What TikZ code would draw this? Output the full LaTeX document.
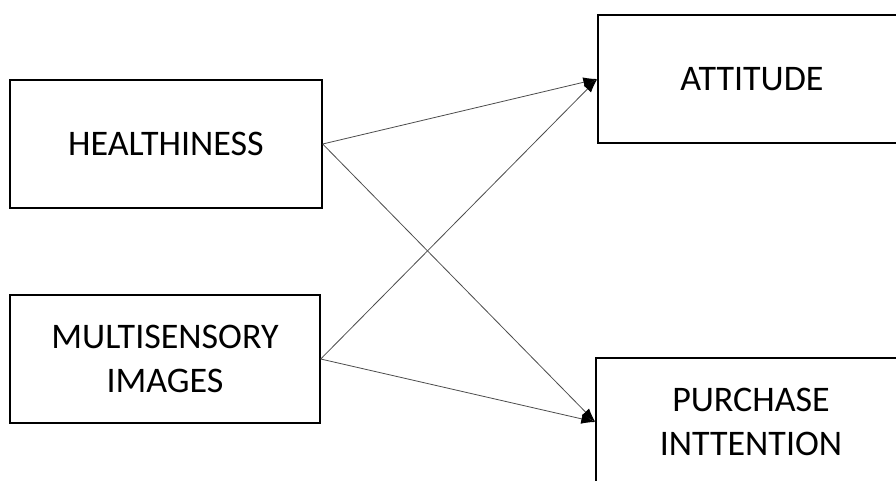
\documentclass[tikz,border=0pt]{standalone}
\usepackage{fontspec}
\setmainfont{Carlito}
\usetikzlibrary{arrows.meta}
\begin{document}
\begin{tikzpicture}[x=1pt,y=-1pt,
    box/.style={draw,line width=1.4pt,minimum height=128pt,align=center,inner sep=0pt,
        font=\fontsize{36}{44}\selectfont},
    link/.style={draw=black!70,line width=0.8pt,-{Latex[length=14pt,width=10pt,color=black]}}]
            \clip (0,0) rectangle (896,480);
            \path (166,144) node [box,minimum width=312pt] (H) {HEALTHINESS}
                  (165,359) node [box,minimum width=310pt] (M) {MULTISENSORY\\IMAGES}
                  (752,79) node [box,minimum width=308pt] (A) {ATTITUDE}
                  (751,422) node [box,minimum width=310pt] (P) {PURCHASE\\INTTENTION};
            \draw [link] (H.east) -- (A.west);
            \draw [link] (H.east) -- (P.west);
            \draw [link] (M.east) -- (A.west);
            \draw [link] (M.east) -- (P.west);
        \end{tikzpicture}
\end{document}
